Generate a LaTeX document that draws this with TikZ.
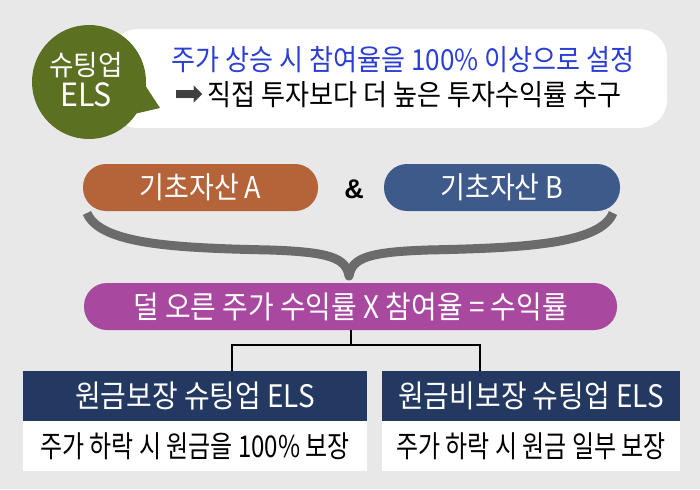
\documentclass[tikz,border=0pt]{standalone}
\usepackage{fontspec}
\setmainfont{Noto Sans CJK KR}
\newfontfamily\krn[FakeStretch=0.9]{Noto Sans CJK KR}
\newfontfamily\krc[FakeStretch=0.8]{Noto Sans CJK KR}
\newfontfamily\krw[FakeStretch=0.95]{Noto Sans CJK KR}
\newfontfamily\symf{DejaVu Sans}
\newfontfamily\ampf{Liberation Sans}
\definecolor{bgg}{HTML}{E8E8E8}
\definecolor{olivec}{HTML}{5B7121}
\definecolor{bluetxt}{HTML}{2B3FD6}
\definecolor{orangec}{HTML}{B5643A}
\definecolor{bluepill}{HTML}{3E5A8A}
\definecolor{purplec}{HTML}{A8489F}
\definecolor{navyc}{HTML}{243961}
\definecolor{braceg}{HTML}{6B6B6B}
\definecolor{arrowg}{HTML}{404040}
\begin{document}
\begin{tikzpicture}[x=1pt,y=-1pt,
  pill/.style={rectangle, rounded corners=23pt, minimum height=47pt, inner sep=0pt, text=white, font=\krn\fontsize{30}{30}\selectfont},
  headbox/.style={rectangle, fill=navyc, minimum height=50pt, inner sep=0pt, text=white, font=\krn\fontsize{31}{31}\selectfont},
  bodybox/.style={rectangle, fill=white, minimum height=50pt, inner sep=0pt, text=black, font=\krc\fontsize{30}{30}\selectfont},
  conn/.style={line width=2pt, black},
  line1/.style={inner sep=0pt, font=\krn\fontsize{29}{29}\selectfont}
]
\fill[bgg] (0,0) rectangle (700,489);
\useasboundingbox (0,0) rectangle (700,489);
% callout
\node[rectangle, fill=white, rounded corners=28pt, minimum width=557pt, minimum height=99pt, inner sep=0pt] (note) at (388.5,78.5) {};
\node[circle, fill=olivec, minimum size=114pt, inner sep=0pt] (badge) at (89,82) {};
\fill[olivec] (143,82) -- (160,108) -- (134,114) -- cycle;
\node[inner sep=0pt, text=white, font=\krw\fontsize{28}{28}\selectfont] (bt1) at (86,65) {슈팅업};
\node[inner sep=0pt, text=white, font=\krw\fontsize{32}{32}\selectfont] (bt2) at (86,95) {ELS};
\node[line1, text=bluetxt] (l1) at (403,60) {주가 상승 시 참여율을 100\% 이상으로 설정};
\node[line1, text=black, font=\krn\fontsize{29}{29}\selectfont] (l2) at (398,95) {{\symf\fontsize{35}{35}\selectfont\color{arrowg}➡}\hspace{4pt}직접 투자보다 더 높은 투자수익률 추구};
% pills
\node[pill, fill=orangec, minimum width=235pt] (pa) at (200.5,187.5) {기초자산 A};
\node[pill, fill=bluepill, minimum width=236pt] (pb) at (502,187.5) {기초자산 B};
\node[inner sep=0pt, font=\ampf\bfseries\fontsize{27}{27}\selectfont] (amp) at (354,189) {\&};
% brace
\draw[braceg, line width=9pt, line join=round]
  (87,213) .. controls (100,245) and (180,248) .. (270,250)
  .. controls (330,252) and (346,258) .. (349,276)
  .. controls (352,258) and (368,252) .. (428,250)
  .. controls (518,248) and (600,245) .. (613,213);
\node[pill, fill=purplec, minimum width=533pt, font=\krn\fontsize{31}{31}\selectfont] (mult) at (350.5,306.5) {덜 오른 주가 수익률 X 참여율 = 수익률};
% bottom boxes
\node[headbox, minimum width=344pt] (lhead) at (195,396) {원금보장 슈팅업 ELS};
\node[bodybox, minimum width=344pt] (lbody) at (195,446) {주가 하락 시 원금을 100\% 보장};
\node[headbox, minimum width=298pt] (rhead) at (531,396) {원금비보장 슈팅업 ELS};
\node[bodybox, minimum width=298pt] (rbody) at (531,446) {주가 하락 시 원금 일부 보장};
% connectors
\coordinate (jl) at (232,345);
\coordinate (jr) at (480,345);
\draw[conn] (mult.south) -- (mult.south |- jl);
\draw[conn] (jl |- lhead.north) -- (jl) -- (jr) -- (jr |- rhead.north);
\end{tikzpicture}
\end{document}
